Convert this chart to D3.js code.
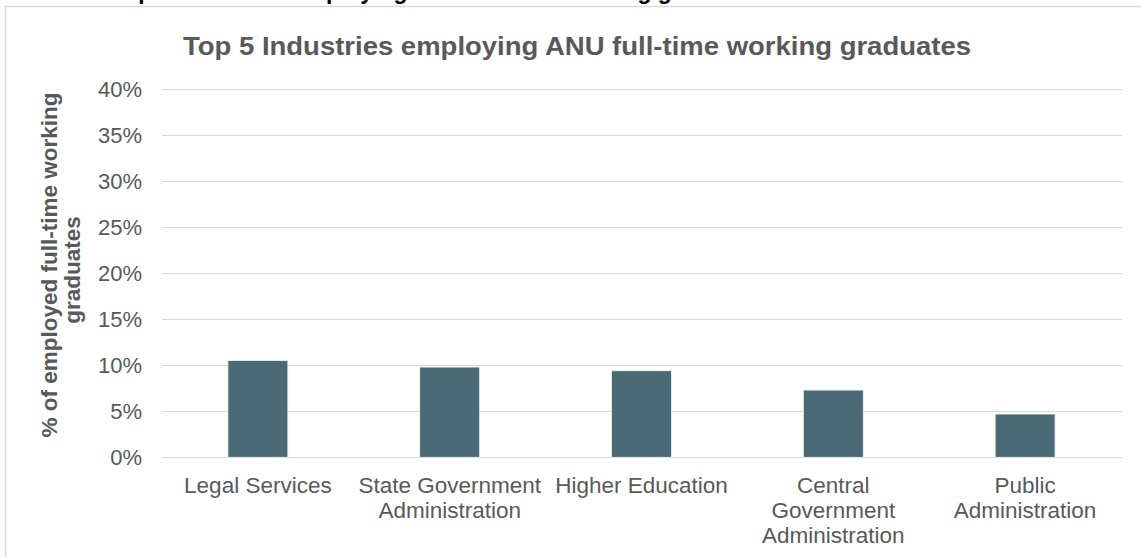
<!DOCTYPE html>
<html>
<head>
<meta charset="utf-8">
<script src="https://cdn.jsdelivr.net/npm/d3@7"></script>
<style>
  body { margin: 0; background: #fff; }
  svg { display: block; font-family: Arial, "Liberation Sans", sans-serif; }
</style>
</head>
<body>
<div id="chart"></div>
<script>
const WIDTH = 1141;
const HEIGHT = 557;

// datos
const industries = ["Legal Services", "State Government Administration", "Higher Education",
    "Central Government Administration", "Public Administration"];
const shares = [0.105, 0.098, 0.094, 0.073, 0.047];
const yTicks = [0, 0.05, 0.10, 0.15, 0.20, 0.25, 0.30, 0.35, 0.40];

const pageHeading = "Top 5 Industries employing ANU full-time working graduates";
const chartTitle = "Top 5 Industries employing ANU full-time working graduates";
const yTitle = ["% of employed full-time working", "graduates"];

const GREY = "#595959";

const svg = d3.select("#chart")
    .append("svg")
    .attr("width", WIDTH)
    .attr("height", HEIGHT);

// heading del documento, cortado arriba (como en la imagen)
svg.append("text")
    .attr("x", 112)
    .attr("y", -1)
    .attr("textLength", 655)
    .attr("lengthAdjust", "spacingAndGlyphs")
    .style("font-size", "24px")
    .style("font-weight", "bold")
    .style("fill", "#000")
    .text(pageHeading);

// borde del area del grafico
svg.append("rect")
    .attr("x", 5.5)
    .attr("y", 6.5)
    .attr("width", WIDTH + 20)
    .attr("height", HEIGHT + 20)
    .attr("fill", "#fff")
    .attr("stroke", "#d9d9d9")
    .attr("stroke-width", 1.5);

const x = d3.scaleBand()
    .domain(industries)
    .range([162, 1121])
    .paddingInner(0.6875)
    .paddingOuter(0.34375);

const y = d3.scaleLinear()
    .domain([0, 0.4])
    .range([457.3, 89]);

// grid
svg.append("g")
    .selectAll("line")
    .data(yTicks)
    .enter().append("line")
    .attr("x1", 162)
    .attr("x2", 1122)
    .attr("y1", d => Math.round(y(d)) + 0.5)
    .attr("y2", d => Math.round(y(d)) + 0.5)
    .attr("stroke", "#d9d9d9")
    .attr("stroke-width", 1);

// eje y
const yAxis = svg.append("g")
    .attr("transform", "translate(162,0)")
    .call(d3.axisLeft(y).tickValues(yTicks).tickFormat(d3.format(".0%")).tickSize(0).tickPadding(20));
yAxis.select(".domain").remove();
yAxis.selectAll("text")
    .style("font-size", "22px")
    .style("font-family", "Arial, 'Liberation Sans', sans-serif")
    .style("fill", GREY);

// barras
svg.append("g")
    .selectAll("rect")
    .data(shares)
    .enter().append("rect")
    .attr("x", (d, i) => x(industries[i]))
    .attr("y", d => y(d))
    .attr("width", x.bandwidth())
    .attr("height", d => y(0) - y(d))
    .attr("fill", "#4a6b75")
    .attr("stroke", "#eef2f3")
    .attr("stroke-width", 0.8);

// etiquetas de categorias con salto de linea
const labels = svg.append("g")
    .selectAll("text")
    .data(industries)
    .enter().append("text")
    .attr("x", d => x(d) + x.bandwidth() / 2)
    .attr("y", 493)
    .attr("text-anchor", "middle")
    .style("font-size", "22.5px")
    .style("fill", GREY);

labels.each(function(d) {
    const el = d3.select(this);
    const words = d.split(" ");
    const maxW = x.step() - 4;
    let line = [];
    let tspan = el.append("tspan").attr("x", el.attr("x")).attr("dy", 0);
    words.forEach(w => {
        line.push(w);
        tspan.text(line.join(" "));
        if (tspan.node().getComputedTextLength() > maxW && line.length > 1) {
            line.pop();
            tspan.text(line.join(" "));
            line = [w];
            tspan = el.append("tspan").attr("x", el.attr("x")).attr("dy", 25).text(w);
        }
    });
});

// titulo
svg.append("text")
    .attr("x", 577)
    .attr("y", 55)
    .attr("text-anchor", "middle")
    .attr("textLength", 788)
    .attr("lengthAdjust", "spacingAndGlyphs")
    .style("font-size", "26px")
    .style("font-weight", "bold")
    .style("fill", GREY)
    .text(chartTitle);

// titulo eje y
const yt = svg.append("text")
    .attr("transform", "translate(0,265) rotate(-90)")
    .attr("text-anchor", "middle")
    .style("font-size", "22.5px")
    .style("font-weight", "bold")
    .style("fill", GREY);

yt.selectAll("tspan")
    .data(yTitle)
    .enter().append("tspan")
    .attr("x", (d, i) => i === 0 ? 0 : -5)
    .attr("y", (d, i) => 57 + i * 23)
    .text(d => d);
</script>
</body>
</html>
